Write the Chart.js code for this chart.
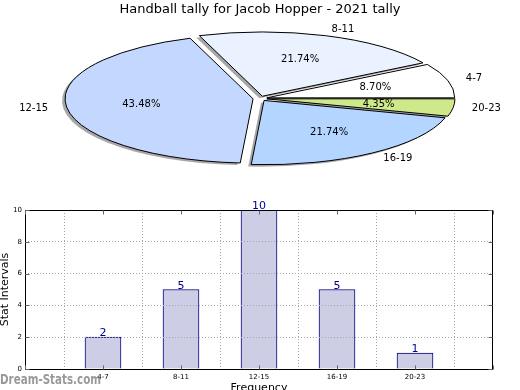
<!DOCTYPE html>
<html>
<head>
<meta charset="utf-8">
<script src="https://cdn.jsdelivr.net/npm/chart.js@4.4.1/dist/chart.umd.min.js"></script>
<style>
    body { margin: 0; width: 520px; height: 390px; overflow: hidden; background: #fff; position: relative; }
    canvas { position: absolute; left: 0; }
</style>
</head>
<body>
<canvas id="pie" width="520" height="185" style="top:0"></canvas>
<canvas id="bars" width="520" height="215" style="top:185px"></canvas>
<script>
    // data
    const categories = ["4-7", "8-11", "12-15", "16-19", "20-23"];
    const counts = [2, 5, 10, 5, 1];
    const pieColors = ["#ffffff", "#eaf2ff", "#c4d8ff", "#b4d5ff", "#cde98a"];
    const yTicks = [0, 2, 4, 6, 8, 10];

    const sFont = "'DejaVu Sans', sans-serif";
    const iTotal = counts.reduce((a, b) => a + b, 0);

    // flattened pie settings (image coords)
    const pieCx = 260, pieCy = 98.5, squash = 0.342, explode = 7, pieR = 188;

    const flatPie = {
        id: "flatPie",
        beforeDatasetsDraw(chart) {
            const ctx = chart.ctx;
            const aArcs = chart.getDatasetMeta(0).data;

            // squash transform + explode for one arc
            const toImg = (a, dx, dy) => {
                const mid = (a.startAngle + a.endAngle) / 2;
                ctx.translate(pieCx + dx, pieCy + dy);
                ctx.scale(1, squash);
                ctx.translate(-a.x, -a.y);
                ctx.translate(Math.cos(mid) * explode, Math.sin(mid) * explode);
            };
            const slicePath = (a, dx, dy) => {
                ctx.save();
                toImg(a, dx, dy);
                ctx.beginPath();
                ctx.moveTo(a.x, a.y);
                ctx.arc(a.x, a.y, a.outerRadius, a.startAngle, a.endAngle);
                ctx.closePath();
                ctx.restore();
            };

            // shadows first
            ctx.save();
            ctx.fillStyle = "rgba(60,60,60,0.45)";
            aArcs.forEach(a => { slicePath(a, -3, 2); ctx.fill(); });
            ctx.restore();

            // fills by the arc elements, outline with an even line width
            aArcs.forEach(a => {
                ctx.save();
                toImg(a, 0, 0);
                a.draw(ctx);
                ctx.restore();
                ctx.save();
                slicePath(a, 0, 0);
                ctx.lineWidth = 1;
                ctx.strokeStyle = "#000";
                ctx.stroke();
                ctx.restore();
            });

            // labels
            const aLabels = chart.data.labels;
            const aValues = chart.data.datasets[0].data;
            ctx.save();
            ctx.font = "10px " + sFont;
            ctx.fillStyle = "#000";
            ctx.textBaseline = "middle";
            aArcs.forEach((a, i) => {
                const mid = (a.startAngle + a.endAngle) / 2;
                const c = Math.cos(mid), s = Math.sin(mid);
                let r = explode + 1.1 * a.outerRadius;
                ctx.textAlign = c > 0 ? "left" : "right";
                ctx.fillText(aLabels[i], pieCx + r * c, pieCy + squash * r * s);
                r = explode + 0.6 * a.outerRadius;
                ctx.textAlign = "center";
                ctx.fillText((aValues[i] / iTotal * 100).toFixed(2) + "%", pieCx + r * c, pieCy + squash * r * s);
            });
            ctx.restore();
            return false;
        }
    };

    // pie is drawn clockwise from 3 o'clock, so feed it reversed
    new Chart(document.getElementById("pie"), {
        type: "pie",
        data: {
            labels: categories.slice().reverse(),
            datasets: [{
                data: counts.slice().reverse(),
                backgroundColor: pieColors.slice().reverse(),
                borderWidth: 0,
                clip: false
            }]
        },
        options: {
            responsive: false,
            animation: false,
            rotation: 90,
            radius: pieR,
            plugins: {
                legend: { display: false },
                tooltip: { enabled: false },
                title: {
                    display: true,
                    text: "Handball tally for Jacob Hopper - 2021 tally",
                    color: "#000",
                    font: { family: sFont, size: 13, weight: "normal" },
                    padding: { top: 2, bottom: 0 }
                }
            }
        },
        plugins: [flatPie]
    });

    // frame, inward ticks, bar values, watermark
    const barExtras = {
        id: "barExtras",
        afterDraw(chart) {
            const ctx = chart.ctx;
            const a = chart.chartArea;
            const l = Math.round(a.left) + 0.5, t = Math.round(a.top) + 0.5;
            const r = Math.round(a.right) - 0.5, b = Math.round(a.bottom) + 0.5;
            ctx.save();
            ctx.strokeStyle = "#000";
            ctx.lineWidth = 1;
            ctx.strokeRect(l, t, r - l, b - t);

            // small inward tick marks
            ctx.strokeStyle = "#666";
            ctx.beginPath();
            chart.scales.x.ticks.forEach((tk, i) => {
                const x = Math.round(chart.scales.x.getPixelForTick(i)) + 0.5;
                ctx.moveTo(x, b); ctx.lineTo(x, b - 4);
                ctx.moveTo(x, t); ctx.lineTo(x, t + 4);
            });
            chart.scales.y.ticks.forEach((tk, i) => {
                const y = Math.round(chart.scales.y.getPixelForTick(i)) + 0.5;
                ctx.moveTo(l, y); ctx.lineTo(l + 4, y);
                ctx.moveTo(r, y); ctx.lineTo(r - 4, y);
            });
            ctx.stroke();

            // values above bars
            ctx.font = "11px " + sFont;
            ctx.fillStyle = "#000090";
            ctx.textAlign = "center";
            ctx.textBaseline = "alphabetic";
            chart.getDatasetMeta(0).data.forEach((bar, i) => {
                const v = chart.data.datasets[0].data[i];
                if (v == null) return;
                ctx.fillText(String(v), bar.x, bar.y - 1);
            });

            // watermark
            ctx.font = "bold 14px " + sFont;
            ctx.fillStyle = "rgba(110,110,110,0.7)";
            ctx.textAlign = "left";
            ctx.fillText("Dream-Stats.com", 0, 199, 101);
            ctx.restore();
        }
    };

    new Chart(document.getElementById("bars"), {
        type: "bar",
        data: {
            labels: ["", ...categories, ""],
            datasets: [{
                data: [null, ...counts, null],
                backgroundColor: "#cdcde6",
                borderColor: "#000080",
                borderWidth: 1,
                barThickness: 36
            }]
        },
        options: {
            responsive: false,
            animation: false,
            layout: { padding: { left: 0, right: 27, top: 25, bottom: 0 } },
            plugins: { legend: { display: false }, tooltip: { enabled: false } },
            scales: {
                x: {
                    offset: false,
                    afterFit: s => { s.height = 31; },
                    grid: { color: "#a8a8a8", drawTicks: false, z: 1 },
                    border: { display: false, dash: [1, 2] },
                    ticks: { color: "#000", font: { family: sFont, size: 7 }, padding: 4, maxRotation: 0, autoSkip: false },
                    title: { display: true, text: "Frequency", color: "#000", font: { family: sFont, size: 11, lineHeight: 1 }, padding: { top: 0, bottom: 6 } }
                },
                y: {
                    min: yTicks[0],
                    max: yTicks[yTicks.length - 1],
                    afterFit: s => { s.width = 25; },
                    afterBuildTicks: s => { s.ticks = yTicks.map(v => ({ value: v })); },
                    grid: { color: "#a8a8a8", drawTicks: false, z: 1 },
                    border: { display: false, dash: [1, 2] },
                    ticks: { color: "#000", font: { family: sFont, size: 7 }, padding: 3 },
                    title: { display: true, text: "Stat Intervals", color: "#000", font: { family: sFont, size: 11, lineHeight: 1 }, padding: 0 }
                }
            }
        },
        plugins: [barExtras]
    });
</script>
</body>
</html>
